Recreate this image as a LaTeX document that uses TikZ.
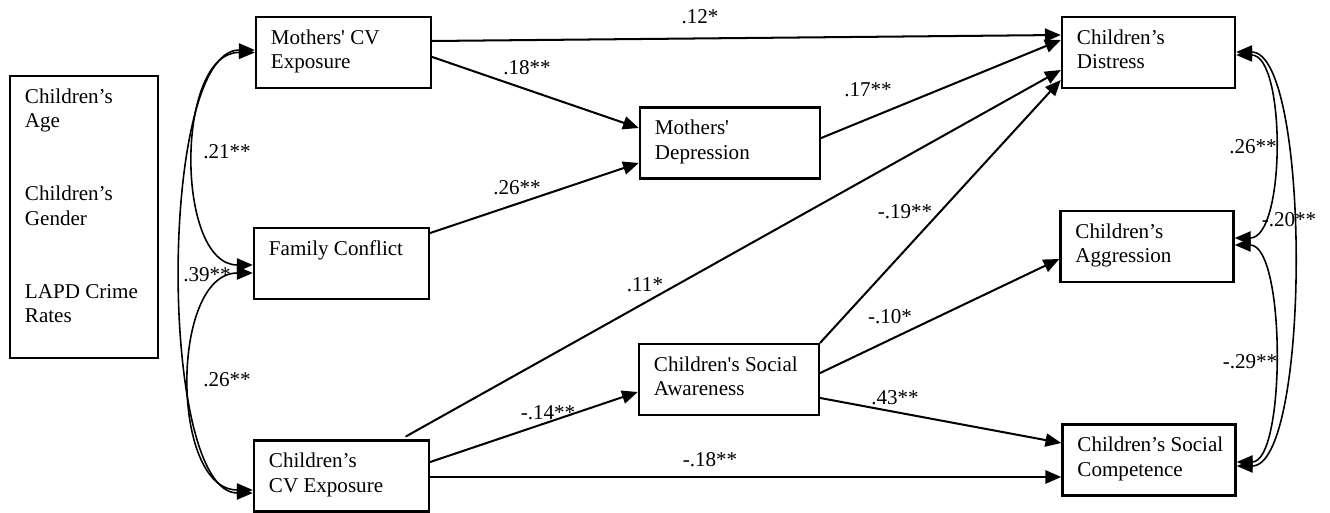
\documentclass[tikz,border=0pt]{standalone}
\usepackage{fontspec}
\setmainfont{Liberation Serif}
\usetikzlibrary{arrows.meta, calc}

% box text: top-left aligned inside a fixed box
\newcommand{\boxtxt}[3]{\parbox[c][#2][t]{#1}{\raggedright\leftskip=8.5pt\rule{0pt}{15.5pt}#3}}
\newcommand{\sq}{\textquotesingle}

\begin{document}
\begin{tikzpicture}[x=0.02cm, y=-0.02cm, >={Triangle[length=9pt,width=7.5pt]},
  font=\fontsize{12}{14}\selectfont, line cap=round,
  var/.style={draw, line width=1.4pt, inner sep=0pt},
  eff/.style={->, line width=1.15pt},
  cov/.style={<->, line width=0.9pt},
  coef/.style={inner sep=0pt}]
  \def\bw{3.5cm}
  \def\bh{1.42cm}
  \useasboundingbox (0,0) rectangle (1330,513);

  % control variables
  \node[var] (ctrl) at (84,217)
    {\boxtxt{2.96cm}{5.64cm}{Children’s\\Age\\[27.5pt]Children’s\\Gender\\[27.5pt]LAPD Crime\\Rates}};

  % exogenous variables
  \node[var] (mcv) at (343.5,52.5) {\boxtxt{\bw}{\bh}{Mothers\sq{} CV\\Exposure}};
  \node[var] (fam) at (341.5,263.5) {\boxtxt{\bw}{\bh}{Family Conflict}};
  \node[var] (ccv) at (341.5,476) {\boxtxt{\bw}{\bh}{Children’s\\CV Exposure}};

  % mediators
  \node[var] (dep) at (730,143) {\boxtxt{3.6cm}{\bh}{Mothers\sq\\Depression}};
  \node[var] (aw) at (729,379.5) {\boxtxt{3.6cm}{\bh}{Children\sq s Social\\Awareness}};

  % outcomes
  \node[var] (dis) at (1148.5,52.5) {\boxtxt{3.46cm}{\bh}{Children’s\\Distress}};
  \node[var] (agg) at (1147,246.5) {\boxtxt{3.46cm}{\bh}{Children’s\\Aggression}};
  \node[var] (com) at (1149,460) {\boxtxt{3.46cm}{\bh}{Children’s Social\\Competence}};

  % paths
  \draw[eff] ($(mcv.east)+(0,-11.5)$) -- ($(dis.west)+(0,-17.5)$);
  \draw[eff] ($(mcv.east)+(0,4.5)$) -- ($(dep.west)+(0,-15)$);
  \draw[eff] ($(fam.east)+(0,-30.5)$) -- ($(dep.west)+(0,20)$);
  \draw[eff] ($(dep.east)+(0,-5)$) -- ($(dis.west)+(0,-12.5)$);
  \draw[eff] ($(ccv.north east)+(-24,-3)$) -- ($(dis.west)+(0,17.5)$);
  \draw[eff] ($(ccv.east)+(0,-14)$) -- ($(aw.west)+(0,12.5)$);
  \draw[eff] ($(ccv.east)+(0,1)$) -- ($(com.west)+(0,17)$);
  \draw[eff] (aw.north east) -- ($(dis.west)+(0,27.5)$);
  \draw[eff] ($(aw.east)+(0,-6.5)$) -- ($(agg.west)+(0,12.5)$);
  \draw[eff] ($(aw.east)+(0,18.5)$) -- ($(com.west)+(0,-17)$);

  % covariances, left
  \draw[cov] (mcv.west) .. controls (175,52) and (175,265) .. ($(fam.west)+(0,1.5)$);
  \draw[cov] ($(fam.west)+(0,9.5)$) .. controls (170,273) and (170,490) .. ($(ccv.west)+(0,14)$);
  \draw[cov] ($(mcv.west)+(0,-2.5)$) .. controls (158,50) and (158,493) .. ($(ccv.west)+(0,17)$);

  % covariances, right
  \draw[cov] ($(dis.east)+(0,2.5)$) .. controls (1286,55) and (1286,238) .. ($(agg.east)+(0,-8.5)$);
  \draw[cov] ($(agg.east)+(0,-1.5)$) .. controls (1286,245) and (1286,462) .. ($(com.east)+(0,2)$);
  \draw[cov] ($(dis.east)+(0,-0.5)$) .. controls (1311,52) and (1311,466) .. ($(com.east)+(0,6)$);

  % coefficients
  \node[coef] (c12) at (700,17) {.12*};
  \node[coef] (c18) at (527,68) {.18**};
  \node[coef] (c26a) at (517,188) {.26**};
  \node[coef] (c17) at (868,90) {.17**};
  \node[coef] (c11) at (645,285) {.11*};
  \node[coef] (c14) at (548,413) {-.14**};
  \node[coef] (c18b) at (710,460) {-.18**};
  \node[coef] (c19) at (905,212) {-.19**};
  \node[coef] (c10) at (890,317) {-.10*};
  \node[coef] (c43) at (895,398) {.43**};
  \node[coef] (c21) at (227,152) {.21**};
  \node[coef] (c39) at (207,275) {.39**};
  \node[coef] (c26b) at (227,380) {.26**};
  \node[coef] (c26c) at (1253,147) {.26**};
  \node[coef] (c20) at (1289,220) {-.20**};
  \node[coef] (c29) at (1250,362) {-.29**};
\end{tikzpicture}
\end{document}
